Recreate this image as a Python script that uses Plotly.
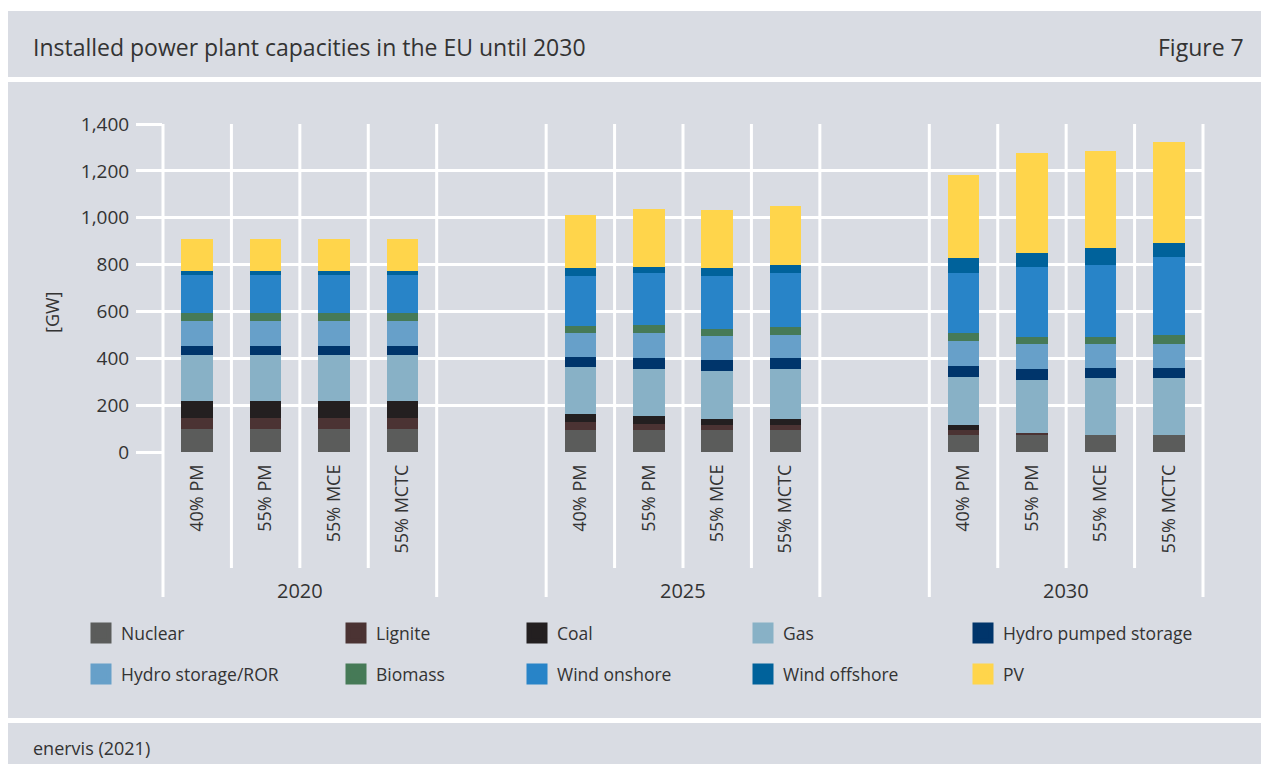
import plotly.graph_objects as go

# ---------------- data ----------------
years = ["2020", "2025", "2030"]
scenarios = ["40% PM", "55% PM", "55% MCE", "55% MCTC"]
technologies = ["Nuclear", "Lignite", "Coal", "Gas", "Hydro pumped storage",
                "Hydro storage/ROR", "Biomass", "Wind onshore", "Wind offshore", "PV"]

# values in GW, order: 2020 (4 scenarios), 2025 (4 scenarios), 2030 (4 scenarios)
nuclear = [100, 100, 100, 100, 93, 93, 93, 93, 71, 71, 71, 71]
lignite = [44, 44, 44, 44, 34, 26, 21, 21, 22, 9, 0, 0]
coal = [73, 73, 73, 73, 34, 34, 26, 26, 21, 0, 0, 0]
gas = [197, 197, 197, 197, 202, 201, 206, 214, 206, 227, 245, 245]
hydro_pumped = [39, 39, 39, 39, 43, 47, 47, 47, 47, 47, 43, 43]
hydro_storage = [107, 107, 107, 107, 103, 108, 103, 99, 107, 107, 102, 102]
biomass = [34, 34, 34, 34, 30, 34, 30, 34, 35, 30, 30, 39]
wind_onshore = [163, 163, 163, 163, 214, 223, 227, 232, 257, 300, 309, 334]
wind_offshore = [17, 17, 17, 17, 34, 25, 34, 34, 60, 60, 69, 60]
pv = [137, 137, 137, 137, 223, 245, 244, 249, 355, 425, 415, 429]

series = [nuclear, lignite, coal, gas, hydro_pumped, hydro_storage,
          biomass, wind_onshore, wind_offshore, pv]
colors = ["#5b5c5b", "#4b3333", "#231f20", "#88b1c6", "#00356b",
          "#67a0c9", "#467a57", "#2884c8", "#00629b", "#ffd54b"]

y_ticks = [0, 200, 400, 600, 800, 1000, 1200, 1400]

# ---------------- layout helpers ----------------
W, H = 1269, 764
OFF = 8                              # page body margin
L, R, T, B = 163, 1203, 124, 452     # plot area in screen pixels
GAP = 1.6                            # blank space between year groups (in cells)
BG = "#d9dce3"
TXT = "#333333"
FONT = "Open Sans"

n_s = len(scenarios)
x_pos = [g * (n_s + GAP) + s for g in range(len(years)) for s in range(n_s)]
x_min, x_max = -0.5, x_pos[-1] + 0.5


def px_x(px):
    return (px - L) / (R - L)


def px_y(py):
    return (B - py) / (B - T)


def data_x(x):
    return (x - x_min) / (x_max - x_min)


fig = go.Figure()

for name, vals, col in zip(technologies, series, colors):
    fig.add_trace(go.Bar(
        x=x_pos, y=vals, name=name, marker=dict(color=col, line=dict(width=0)),
        showlegend=False, hovertemplate=name + ": %{y} GW<extra></extra>"))

# legend entries (5 columns x 2 rows)
col_px = [81, 336, 517, 743, 963]
row_py = [633, 674]
legend_layouts = {}
for i, (name, col) in enumerate(zip(technologies, colors)):
    key = "legend" if i == 0 else f"legend{i + 1}"
    r, c = divmod(i, 5)
    fig.add_trace(go.Scatter(
        x=[None], y=[None], mode="markers", name=name, legend=key,
        marker=dict(symbol="square", size=20, color=col,
                    line=dict(color=col, width=5))))
    legend_layouts[key] = dict(
        x=px_x(col_px[c]), y=px_y(row_py[r]), xanchor="left", yanchor="middle",
        bgcolor="rgba(0,0,0,0)", borderwidth=0,
        font=dict(family=FONT, size=17.5, color=TXT), itemsizing="trace")

shapes = []
# gray panel and white separators
shapes.append(dict(type="rect", xref="paper", yref="paper", layer="below",
                   x0=px_x(8), x1=px_x(W + 20), y0=px_y(11), y1=px_y(H + 20),
                   fillcolor=BG, line=dict(width=0)))
for y0, y1 in [(77, 82), (718, 723)]:
    shapes.append(dict(type="rect", xref="paper", yref="paper", layer="below",
                       x0=px_x(8), x1=px_x(W + 20), y0=px_y(y0), y1=px_y(y1),
                       fillcolor="white", line=dict(width=0)))

# vertical category dividers
for g in range(len(years)):
    start = g * (n_s + GAP) - 0.5
    for k in range(n_s + 1):
        xb = data_x(start + k)
        outer = k in (0, n_s)
        shapes.append(dict(type="line", xref="paper", yref="paper", layer="below",
                           x0=xb, x1=xb, y0=px_y(597 if outer else 568), y1=1,
                           line=dict(color="white", width=3)))

annotations = []
for g, yr in enumerate(years):
    xc = data_x(g * (n_s + GAP) + (n_s - 1) / 2)
    annotations.append(dict(x=xc, y=px_y(590), xref="paper", yref="paper",
                            text=yr, showarrow=False, xanchor="center", yanchor="middle",
                            font=dict(family=FONT, size=20, color=TXT)))

annotations += [
    dict(x=px_x(31), y=px_y(47), xref="paper", yref="paper", showarrow=False,
         text="Installed power plant capacities in the EU until 2030",
         xanchor="left", yanchor="middle", font=dict(family=FONT, size=23, color=TXT)),
    dict(x=px_x(1246), y=px_y(47), xref="paper", yref="paper", showarrow=False,
         text="Figure 7", xanchor="right", yanchor="middle",
         font=dict(family=FONT, size=23, color=TXT)),
    dict(x=px_x(31), y=px_y(748), xref="paper", yref="paper", showarrow=False,
         text="enervis (2021)", xanchor="left", yanchor="middle",
         font=dict(family=FONT, size=18, color=TXT)),
    dict(x=px_x(52), y=px_y(313), xref="paper", yref="paper", showarrow=False,
         text="[GW]", textangle=-90, xanchor="center", yanchor="middle",
         font=dict(family=FONT, size=18, color=TXT)),
]

fig.update_layout(
    width=W, height=H, autosize=False,
    margin=dict(l=L - OFF, r=W - (R - OFF), t=T - OFF, b=H - (B - OFF)),
    paper_bgcolor="white", plot_bgcolor="rgba(0,0,0,0)",
    barmode="stack", bargap=0.54,
    font=dict(family=FONT, size=18, color=TXT),
    xaxis=dict(range=[x_min, x_max], tickmode="array", tickvals=x_pos,
               ticktext=scenarios * len(years), tickangle=-90,
               showgrid=False, zeroline=False, showline=False, ticks="",
               ticklabelstandoff=8, tickfont=dict(family=FONT, size=18, color=TXT),
               fixedrange=True),
    yaxis=dict(range=[0, 1400], tickmode="array", tickvals=y_ticks,
               tickformat=",", showgrid=True, gridcolor="white", gridwidth=3,
               zeroline=False, showline=False, ticks="outside", ticklen=26,
               tickwidth=3, tickcolor="white", ticklabelstandoff=3,
               tickfont=dict(family=FONT, size=19, color=TXT), fixedrange=True),
    shapes=shapes, annotations=annotations,
    **legend_layouts,
)

fig.write_html("out.html")
